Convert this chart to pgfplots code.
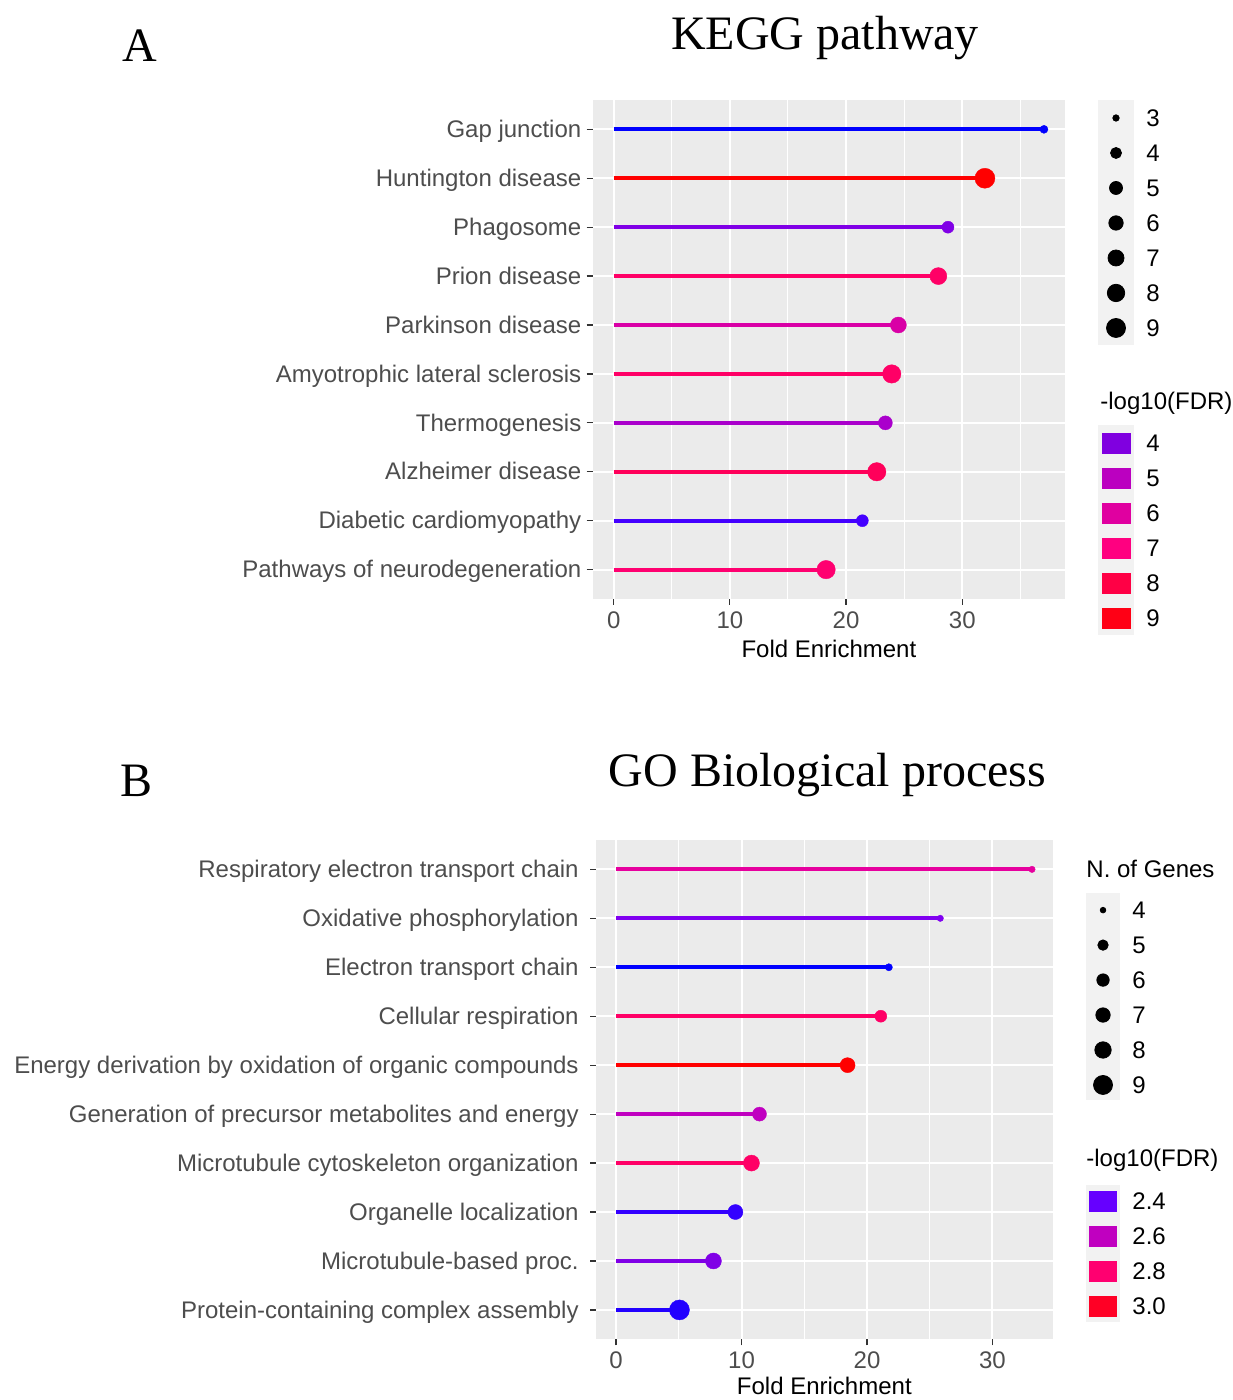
\documentclass[border=0pt]{standalone}
\usepackage{fontspec}
\setmainfont{Liberation Sans}
\newfontfamily\seriffont{Liberation Serif}
\usepackage{pgfplots}
\pgfplotsset{compat=1.18}
\definecolor{panelbg}{HTML}{EBEBEB}
\definecolor{keybg}{HTML}{F2F2F2}
\definecolor{tickc}{HTML}{333333}
\definecolor{labc}{HTML}{4D4D4D}
% panel A colours
\definecolor{a1}{HTML}{0000FF}
\definecolor{a2}{HTML}{FF0000}
\definecolor{a3}{HTML}{8000E6}
\definecolor{a4}{HTML}{FF0066}
\definecolor{a5}{HTML}{D900A6}
\definecolor{a6}{HTML}{FF0066}
\definecolor{a7}{HTML}{AA00CC}
\definecolor{a8}{HTML}{FF005A}
\definecolor{a9}{HTML}{4400FF}
\definecolor{a10}{HTML}{FF0070}
% panel B colours
\definecolor{b1}{HTML}{E6009E}
\definecolor{b2}{HTML}{8000F0}
\definecolor{b3}{HTML}{0000FF}
\definecolor{b4}{HTML}{FF0066}
\definecolor{b5}{HTML}{FF0000}
\definecolor{b6}{HTML}{C000C0}
\definecolor{b7}{HTML}{FF0066}
\definecolor{b8}{HTML}{3300FF}
\definecolor{b9}{HTML}{8000E6}
\definecolor{b10}{HTML}{2200FF}
% legend colours
\definecolor{la4}{HTML}{8000E0}
\definecolor{la5}{HTML}{BB00C0}
\definecolor{la6}{HTML}{E000A0}
\definecolor{la7}{HTML}{FF0080}
\definecolor{la8}{HTML}{FF0045}
\definecolor{la9}{HTML}{FF0015}
\definecolor{lb1}{HTML}{6600FF}
\definecolor{lb2}{HTML}{C000C0}
\definecolor{lb3}{HTML}{FF0070}
\definecolor{lb4}{HTML}{FF0025}
\newcommand{\fs}{\fontsize{12}{14}\selectfont}
\pgfplotsset{
  lolli/.style={
    scale only axis, anchor=south west,
    axis background/.style={fill=panelbg},
    axis line style={draw=none},
    grid=both,
    major grid style={white, line width=1pt},
    minor grid style={white, line width=0.5pt},
    xtick={0,10,20,30}, minor xtick={5,15,25,35},
    ytick={1,...,10},
    xtick pos=bottom, ytick pos=left,
    tick align=outside,
    major tick length=3pt, minor tick length=0pt,
    tick style={color=tickc, line width=0.6pt},
    tick label style={font=\fs, color=labc},
    yticklabel style={inner sep=0pt, anchor=base east, xshift=-2.5pt, yshift=-4.1pt},
    xticklabel style={inner sep=0pt, yshift=-3pt},
    xlabel style={font=\fs, color=black, yshift=-2.5pt},
    /pgf/number format/assume math mode=true,
    ymin=0.4, ymax=10.6,
    clip=false,
  },
  stem/.style={line width=1.9pt, color=#1, mark=*, mark indices={2}, mark options={line width=0.2pt}},
  sizekey/.style={
    scale only axis, anchor=south west,
    axis background/.style={fill=keybg},
    axis line style={draw=none},
    xmin=-1, xmax=1, y dir=reverse,
    xtick=\empty, ytick pos=right, major tick length=0pt,
    yticklabel pos=right,
    yticklabel style={font=\fs, color=black, inner sep=0pt, anchor=base west, xshift=6pt, yshift=-4.3pt},
    /pgf/number format/assume math mode=true,
    clip=false,
  },
}
\begin{document}
\begin{tikzpicture}
\useasboundingbox (0,0) rectangle (616pt,700pt);
% titles
\node[anchor=base, font=\seriffont\fontsize{24}{28}\selectfont] at (412.5pt,675pt) {KEGG pathway};
\node[anchor=base, font=\seriffont\fontsize{24}{28}\selectfont] at (70pt,669pt) {A};
\node[anchor=base, font=\seriffont\fontsize{24}{28}\selectfont] at (413.75pt,306.5pt) {GO Biological process};
\node[anchor=base, font=\seriffont\fontsize{24}{28}\selectfont] at (68.5pt,301.5pt) {B};

% ---------- Panel A ----------
\begin{axis}[lolli, at={(296.35pt,400.5pt)}, width=236.2pt, height=249.5pt,
  xmin=-1.805, xmax=38.85,
  yticklabels={Pathways of neurodegeneration, Diabetic cardiomyopathy, Alzheimer disease, Thermogenesis, Amyotrophic lateral sclerosis, Parkinson disease, Prion disease, Phagosome, Huntington disease, Gap junction},
  xlabel={Fold Enrichment}]
\addplot[stem=a1, mark size=2.0pt] coordinates {(0,10) (37.03,10)};
\addplot[stem=a2, mark size=5.0pt] coordinates {(0,9) (31.95,9)};
\addplot[stem=a3, mark size=3.0pt] coordinates {(0,8) (28.77,8)};
\addplot[stem=a4, mark size=4.25pt] coordinates {(0,7) (27.94,7)};
\addplot[stem=a5, mark size=4.0pt] coordinates {(0,6) (24.50,6)};
\addplot[stem=a6, mark size=4.6pt] coordinates {(0,5) (23.93,5)};
\addplot[stem=a7, mark size=3.5pt] coordinates {(0,4) (23.38,4)};
\addplot[stem=a8, mark size=4.6pt] coordinates {(0,3) (22.64,3)};
\addplot[stem=a9, mark size=3.0pt] coordinates {(0,2) (21.40,2)};
\addplot[stem=a10, mark size=4.6pt] coordinates {(0,1) (18.28,1)};
\end{axis}

% size legend A
\begin{axis}[sizekey, at={(549pt,527.5pt)}, width=18pt, height=122.5pt,
  ymin=2.486, ymax=9.486, ytick={3,...,9}]
\addplot[only marks, mark=*, black, mark size=1.6pt] coordinates {(0,3)};
\addplot[only marks, mark=*, black, mark size=2.75pt] coordinates {(0,4)};
\addplot[only marks, mark=*, black, mark size=3.25pt] coordinates {(0,5)};
\addplot[only marks, mark=*, black, mark size=3.6pt] coordinates {(0,6)};
\addplot[only marks, mark=*, black, mark size=4.0pt] coordinates {(0,7)};
\addplot[only marks, mark=*, black, mark size=4.35pt] coordinates {(0,8)};
\addplot[only marks, mark=*, black, mark size=4.75pt] coordinates {(0,9)};
\end{axis}
\node[anchor=west, font=\fs, inner sep=0pt] at (550pt,498.5pt) {-log10(FDR)};
% colour legend A
\begin{axis}[sizekey, at={(549pt,382.5pt)}, width=18pt, height=105pt,
  ymin=3.486, ymax=9.486, ytick={4,...,9}]
\addplot[only marks, mark=square*, la4, mark size=5pt, mark options={xscale=1.4}] coordinates {(0,4)};
\addplot[only marks, mark=square*, la5, mark size=5pt, mark options={xscale=1.4}] coordinates {(0,5)};
\addplot[only marks, mark=square*, la6, mark size=5pt, mark options={xscale=1.4}] coordinates {(0,6)};
\addplot[only marks, mark=square*, la7, mark size=5pt, mark options={xscale=1.4}] coordinates {(0,7)};
\addplot[only marks, mark=square*, la8, mark size=5pt, mark options={xscale=1.4}] coordinates {(0,8)};
\addplot[only marks, mark=square*, la9, mark size=5pt, mark options={xscale=1.4}] coordinates {(0,9)};
\end{axis}

% ---------- Panel B ----------
\begin{axis}[lolli, at={(298pt,30.35pt)}, width=228.35pt, height=249.65pt,
  xmin=-1.6, xmax=34.8,
  yticklabel style={xshift=-3pt},
  xlabel style={yshift=2pt},
  yticklabels={Protein-containing complex assembly, Microtubule-based proc., Organelle localization, Microtubule cytoskeleton organization, Generation of precursor metabolites and energy, Energy derivation by oxidation of organic compounds, Cellular respiration, Electron transport chain, Oxidative phosphorylation, Respiratory electron transport chain},
  xlabel={Fold Enrichment}]
\addplot[stem=b1, mark size=1.6pt] coordinates {(0,10) (33.15,10)};
\addplot[stem=b2, mark size=1.6pt] coordinates {(0,9) (25.84,9)};
\addplot[stem=b3, mark size=1.8pt] coordinates {(0,8) (21.74,8)};
\addplot[stem=b4, mark size=3.0pt] coordinates {(0,7) (21.10,7)};
\addplot[stem=b5, mark size=3.75pt] coordinates {(0,6) (18.45,6)};
\addplot[stem=b6, mark size=3.5pt] coordinates {(0,5) (11.43,5)};
\addplot[stem=b7, mark size=4.0pt] coordinates {(0,4) (10.79,4)};
\addplot[stem=b8, mark size=3.75pt] coordinates {(0,3) (9.51,3)};
\addplot[stem=b9, mark size=4.0pt] coordinates {(0,2) (7.76,2)};
\addplot[stem=b10, mark size=5.0pt] coordinates {(0,1) (5.05,1)};
\end{axis}

\node[anchor=west, font=\fs, inner sep=0pt] at (543pt,265.5pt) {N. of Genes};
% size legend B
\begin{axis}[sizekey, at={(543pt,150pt)}, width=17pt, height=103.5pt,
  ymin=3.51, ymax=9.43, ytick={4,...,9}]
\addplot[only marks, mark=*, black, mark size=1.4pt] coordinates {(0,4)};
\addplot[only marks, mark=*, black, mark size=2.6pt] coordinates {(0,5)};
\addplot[only marks, mark=*, black, mark size=3.1pt] coordinates {(0,6)};
\addplot[only marks, mark=*, black, mark size=3.6pt] coordinates {(0,7)};
\addplot[only marks, mark=*, black, mark size=4.1pt] coordinates {(0,8)};
\addplot[only marks, mark=*, black, mark size=4.75pt] coordinates {(0,9)};
\end{axis}
\node[anchor=west, font=\fs, inner sep=0pt] at (543pt,120pt) {-log10(FDR)};
% colour legend B
\begin{axis}[sizekey, at={(543pt,39pt)}, width=17pt, height=68.5pt,
  ymin=0.543, ymax=4.457, ytick={1,2,3,4}, yticklabels={2.4,2.6,2.8,3.0}]
\addplot[only marks, mark=square*, lb1, mark size=5pt, mark options={xscale=1.35}] coordinates {(0,1)};
\addplot[only marks, mark=square*, lb2, mark size=5pt, mark options={xscale=1.35}] coordinates {(0,2)};
\addplot[only marks, mark=square*, lb3, mark size=5pt, mark options={xscale=1.35}] coordinates {(0,3)};
\addplot[only marks, mark=square*, lb4, mark size=5pt, mark options={xscale=1.35}] coordinates {(0,4)};
\end{axis}
\end{tikzpicture}
\end{document}
